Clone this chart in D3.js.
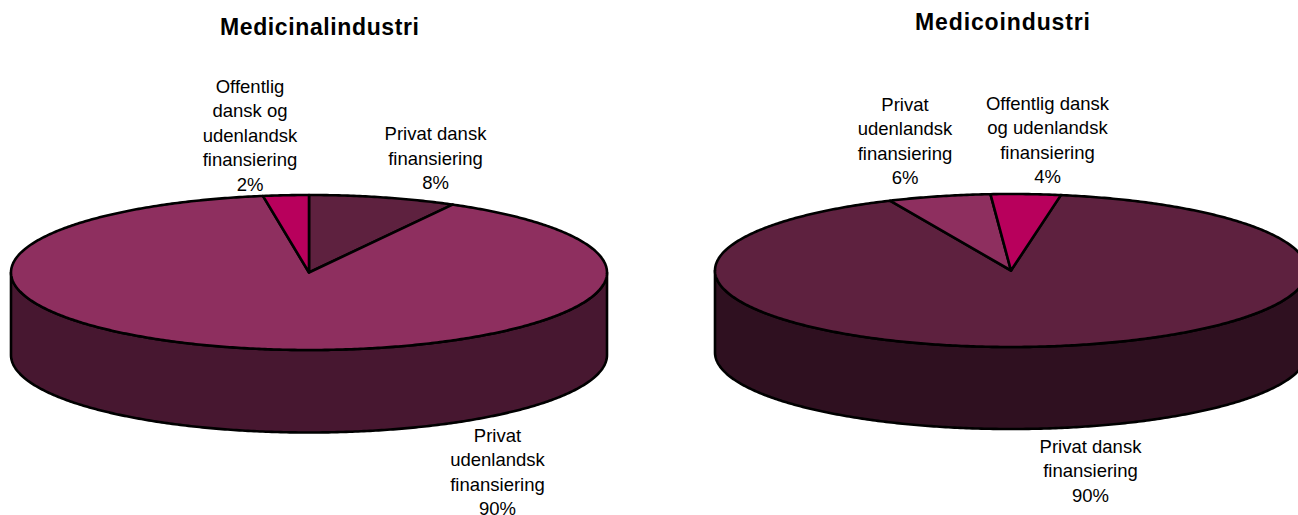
<!DOCTYPE html>
<html><head><meta charset="utf-8">
<script src="https://cdn.jsdelivr.net/npm/d3@7"></script>
<style>html,body{margin:0;padding:0;background:#fff}svg{display:block}text{font-family:"Liberation Sans",Arial,sans-serif;fill:#000}</style>
</head><body><div id="c"></div>
<script>
const leftTitle = "Medicinalindustri";
const rightTitle = "Medicoindustri";
const leftValues = [8, 89.53, 2.47];
const leftLabels = ["8%","90%","2%"];
const rightValues = [90.6, 5.6, 3.8];
const rightLabels = ["90%","6%","4%"];
const leftLines = [["Privat dansk","finansiering"],["Privat","udenlandsk","finansiering"],["Offentlig","dansk og","udenlandsk","finansiering"]];
const rightLines = [["Privat dansk","finansiering"],["Privat","udenlandsk","finansiering"],["Offentlig dansk","og udenlandsk","finansiering"]];
const colorLeft = ["#5e213f","#8e2f5f","#b8005c"];
const sideLeft = ["#2f1020","#471730","#5c002e"];
const colorRight = ["#5e213f","#8e2f5f","#b8005c"];
const sideRight = ["#2f1020","#471730","#5c002e"];

const svg = d3.select("#c").append("svg").attr("width",1298).attr("height",515);

function draw(o){
  const g = svg.append("g");
  const pie = d3.pie().sort(null).startAngle(o.start).endAngle(o.start+2*Math.PI)(o.values);
  const px = a => o.cx + o.rx*Math.sin(a), py = a => o.cy - o.ry*Math.cos(a);
  const arcPath = (a0,a1,dy=0) => {
    const n = Math.max(2,Math.ceil(Math.abs(a1-a0)*o.rx/3));
    return d3.range(n+1).map(i=>{const a=a0+(a1-a0)*i/n;return [px(a),py(a)+dy];});
  };
  const line = d3.line();
  pie.forEach((d,i)=>{
    for (let k=-1;k<=1;k++){
      const a0=Math.max(d.startAngle,Math.PI/2+2*Math.PI*k), a1=Math.min(d.endAngle,3*Math.PI/2+2*Math.PI*k);
      if(a1>a0){
        const top=arcPath(a0,a1), bot=arcPath(a1,a0,o.depth);
        g.append("path").attr("d",line(top.concat(bot))+"Z").attr("fill",o.side[i]).attr("stroke","#000").attr("stroke-width",2.6).attr("stroke-linejoin","round");
      }
    }
  });
  pie.forEach((d,i)=>{
    const pts=[[o.cx,o.cy]].concat(arcPath(d.startAngle,d.endAngle));
    g.append("path").attr("d",line(pts)+"Z").attr("fill",o.color[i]).attr("stroke","#000").attr("stroke-width",2.6).attr("stroke-linejoin","round");
  });
  g.append("text").attr("x",o.tx).attr("y",o.ty).attr("text-anchor","middle").attr("font-weight","bold").attr("font-size",23).attr("textLength",o.tw).attr("lengthAdjust","spacing").text(o.title);
  o.lines.forEach((ls,i)=>{
    ls.concat([o.labels[i]]).forEach((t,j)=>{
      g.append("text").attr("x",o.lx[i]).attr("y",o.ly[i]+j*24.5).attr("text-anchor","middle").attr("font-size",18.5).text(t);
    });
  });
}
draw({cx:309,cy:272.5,rx:298,ry:77.5,depth:82.5,start:0,values:leftValues,labels:leftLabels,lines:leftLines,color:colorLeft,side:sideLeft,title:leftTitle,tw:199,tx:319.5,ty:35,lx:[435.5,497.5,250],ly:[140,441.5,92.5]});
draw({cx:1011,cy:270.5,rx:296,ry:76.5,depth:82,start:9.7*Math.PI/180,values:rightValues,labels:rightLabels,lines:rightLines,color:colorRight,side:sideRight,title:rightTitle,tw:175,tx:1002.5,ty:30,lx:[1090.5,905,1047.5],ly:[452.5,110.5,109.5]});
</script></body></html>
